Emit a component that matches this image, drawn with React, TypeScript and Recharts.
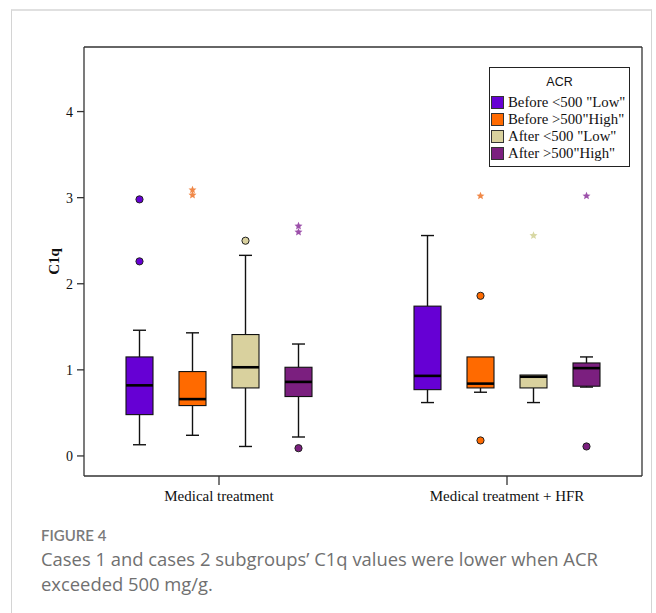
import { ComposedChart, Bar, XAxis, YAxis, Legend, CartesianGrid } from "recharts";

const categories = ["Medical treatment", "Medical treatment + HFR"];
const seriesNames = [
  'Before <500 "Low"',
  'Before >500"High"',
  'After <500 "Low"',
  'After >500"High"',
];
const seriesColors = ["#6600d4", "#ff6a00", "#d9d19e", "#7b1f7f"];
const extremeColors = ["#8a4ae0", "#f08848", "#d8d8a4", "#9c50aa"];

// [lower whisker, Q1, median, Q3, upper whisker], one entry per category
const beforeLow = [
  [0.13, 0.48, 0.82, 1.15, 1.46],
  [0.62, 0.77, 0.93, 1.74, 2.56],
];
const beforeHigh = [
  [0.24, 0.585, 0.66, 0.98, 1.43],
  [0.74, 0.79, 0.84, 1.15, 1.15],
];
const afterLow = [
  [0.11, 0.79, 1.03, 1.41, 2.33],
  [0.62, 0.79, 0.92, 0.94, 0.94],
];
const afterHigh = [
  [0.22, 0.69, 0.86, 1.03, 1.3],
  [0.8, 0.81, 1.02, 1.08, 1.15],
];

// outliers (circles) and extremes (stars)
const beforeLowOut = [[2.98, 2.26], []];
const beforeHighOut = [[], [1.86, 0.18]];
const afterLowOut = [[2.5], []];
const afterHighOut = [[0.09], [0.11]];
const beforeLowExt = [[], []];
const beforeHighExt = [[3.09, 3.03], [3.02]];
const afterLowExt = [[], [2.56]];
const afterHighExt = [[2.67, 2.6], [3.02]];

const yTicks = [0, 1, 2, 3, 4];

const stats = [beforeLow, beforeHigh, afterLow, afterHigh];
const outs = [beforeLowOut, beforeHighOut, afterLowOut, afterHighOut];
const exts = [beforeLowExt, beforeHighExt, afterLowExt, afterHighExt];

const data = categories.map((name, c) => ({
  name,
  boxes: stats.map((s, i) => ({
    stats: s[c],
    outliers: outs[i][c],
    extremes: exts[i][c],
  })),
}));

const SERIF = '"Liberation Serif", "Times New Roman", serif';

function starPath(cx: number, cy: number, r: number) {
  let d = "";
  for (let k = 0; k < 10; k++) {
    const rr = k % 2 === 0 ? r : r * 0.45;
    const a = -Math.PI / 2 + (k * Math.PI) / 5;
    d += (k === 0 ? "M" : "L") + (cx + rr * Math.cos(a)) + "," + (cy + rr * Math.sin(a));
  }
  return d + "Z";
}

function BoxShape(props: any) {
  const { x, y, width, height, payload, idx } = props;
  const box = payload.boxes[idx];
  const [lo, q1, med, q3, hi] = box.stats;
  // the bar spans q1..q3, so its pixel size gives the y mapping
  const k = height / (q3 - q1);
  const toY = (v: number) => y + (q3 - v) * k;
  const cx = x + width / 2;
  const cap = 6.5;
  const line = { stroke: "#111", strokeWidth: 1.4 };
  return (
    <g>
      {hi > q3 && (
        <>
          <line x1={cx} x2={cx} y1={toY(hi)} y2={y} {...line} />
          <line x1={cx - cap} x2={cx + cap} y1={toY(hi)} y2={toY(hi)} {...line} />
        </>
      )}
      {lo < q1 && (
        <>
          <line x1={cx} x2={cx} y1={y + height} y2={toY(lo)} {...line} />
          <line x1={cx - cap} x2={cx + cap} y1={toY(lo)} y2={toY(lo)} {...line} />
        </>
      )}
      <rect x={x} y={y} width={width} height={height} fill={seriesColors[idx]} stroke="#111" strokeWidth={1.1} />
      <line x1={x} x2={x + width} y1={toY(med)} y2={toY(med)} stroke="#000" strokeWidth={2.6} />
      {box.outliers.map((v: number, j: number) => (
        <circle key={"o" + j} cx={cx} cy={toY(v)} r={3.6} fill={seriesColors[idx]} stroke="#222" strokeWidth={1} />
      ))}
      {box.extremes.map((v: number, j: number) => (
        <path key={"e" + j} d={starPath(cx, toY(v), 4.2)} fill={extremeColors[idx]} />
      ))}
    </g>
  );
}

function LegendBox(props: any) {
  const payload = [...(props.payload || [])].sort(
    (a: any, b: any) => seriesNames.indexOf(a.value) - seriesNames.indexOf(b.value)
  );
  return (
    <div
      style={{
        width: 141,
        height: 100,
        border: "1px solid #222",
        background: "#fff",
        boxSizing: "border-box",
      }}
    >
      <div
        style={{
          textAlign: "center",
          fontFamily: '"Liberation Sans", Arial, sans-serif',
          fontSize: 12.5,
          color: "#111",
          marginTop: 7,
          marginBottom: 5,
          lineHeight: "14px",
        }}
      >
        ACR
      </div>
      {payload.map((p: any, i: number) => (
        <div key={i} style={{ display: "flex", alignItems: "center", height: 17, marginLeft: 1 }}>
          <span
            style={{
              width: 13,
              height: 13,
              flex: "none",
              background: p.color,
              border: "1px solid #333",
              boxSizing: "border-box",
              marginRight: 4,
            }}
          />
          <span style={{ fontFamily: SERIF, fontSize: 14.8, color: "#111", whiteSpace: "nowrap" }}>
            {p.value}
          </span>
        </div>
      ))}
    </div>
  );
}

function YLabel(props: any) {
  const vb = props.viewBox || {};
  const cx = vb.x + 54;
  const cy = vb.y + vb.height / 2;
  return (
    <text
      x={cx}
      y={cy}
      transform={`rotate(-90 ${cx} ${cy})`}
      textAnchor="middle"
      dominantBaseline="central"
      fontFamily={SERIF}
      fontWeight="bold"
      fontSize={15}
      fill="#111"
    >
      C1q
    </text>
  );
}

export default function App() {
  const axisColor = "#333";
  return (
    <div style={{ position: "relative", width: 656, height: 613, background: "#fff", overflow: "hidden" }}>
      <style>{"body{margin:0}"}</style>
      <div
        style={{
          position: "absolute",
          left: 11,
          top: 9,
          width: 639,
          height: 640,
          borderLeft: "1px solid #d4d4d4",
          borderRight: "1px solid #d4d4d4",
          borderTop: "2px solid #e0e0e0",
        }}
      />
      <div style={{ position: "absolute", left: 0, top: 0 }}>
        <ComposedChart
          width={656}
          height={520}
          data={data}
          margin={{ top: 47, right: 14, bottom: 0, left: 0 }}
          barGap={26}
        >
          <CartesianGrid
            xAxisId="b"
            yAxisId="l"
            stroke={axisColor}
            strokeWidth={1.3}
            horizontalCoordinatesGenerator={({ offset }: any) => [offset.top]}
            verticalCoordinatesGenerator={({ offset }: any) => [offset.left + offset.width]}
          />
          <XAxis
            xAxisId="b"
            dataKey="name"
            padding={{ left: -9, right: -9 }}
            height={44}
            stroke={axisColor}
            strokeWidth={1.3}
            tickSize={9}
            tickMargin={5}
            tick={{ fontFamily: SERIF, fontSize: 15, fill: "#111" }}
          />
          <YAxis
            yAxisId="l"
            type="number"
            domain={[-0.233, 4.75]}
            ticks={yTicks}
            width={84}
            stroke={axisColor}
            strokeWidth={1.3}
            tickSize={7}
            tickMargin={4}
            tick={{ fontFamily: SERIF, fontSize: 14, fill: "#111" }}
            label={<YLabel />}
          />
          <Legend
            layout="horizontal"
            verticalAlign="middle"
            align="center"
            content={<LegendBox />}
            wrapperStyle={{ position: "absolute", left: 489, top: 67, width: 141, height: 100 }}
          />
          {seriesNames.map((n, i) => (
            <Bar
              key={n}
              name={n}
              xAxisId="b"
              yAxisId="l"
              dataKey={(row: any) => [row.boxes[i].stats[1], row.boxes[i].stats[3]]}
              fill={seriesColors[i]}
              barSize={27}
              isAnimationActive={false}
              shape={(p: any) => <BoxShape {...p} idx={i} />}
            />
          ))}
        </ComposedChart>
      </div>
      <div
        style={{
          position: "absolute",
          left: 41,
          top: 525,
          fontFamily: "Lato, 'Open Sans', sans-serif",
          fontWeight: 600,
          fontSize: 15,
          color: "#7a7a7a",
          lineHeight: "20px",
        }}
      >
        FIGURE 4
      </div>
      <div
        style={{
          position: "absolute",
          left: 41,
          top: 547,
          width: 612,
          fontFamily: "'Open Sans', Lato, sans-serif",
          fontSize: 18.4,
          color: "#707070",
          lineHeight: "24.7px",
        }}
      >
        Cases 1 and cases 2 subgroups’ C1q values were lower when ACR
        <br />
        exceeded 500 mg/g.
      </div>
    </div>
  );
}
